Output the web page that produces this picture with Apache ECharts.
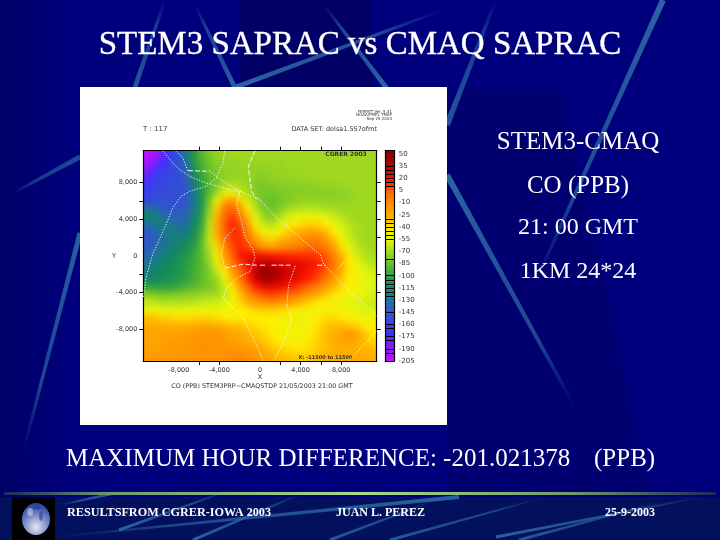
<!DOCTYPE html>
<html><head><meta charset="utf-8">
<style>
html,body{margin:0;padding:0;background:#00007c;overflow:hidden}
#a,#c{position:absolute;left:0;top:0;width:720px;height:540px}
#clip{position:absolute;left:143.3px;top:150.7px;width:233.4px;height:210.3px;overflow:hidden}
#b{position:absolute;left:-143.3px;top:-150.7px;width:720px;height:540px;filter:blur(3.2px)}
#c{filter:blur(0.35px)}
</style>
<script src="https://cdn.jsdelivr.net/npm/echarts@6/dist/echarts.min.js"></script>
</head><body>
<div id="a"></div>
<div id="clip"><div id="b"></div></div>
<div id="c"></div>
<script>
// ---- Field: CO difference (PPB), rows top to bottom ----
const gridRows = [
[-205,-200,-185,-165,-150,-125,-105,-90,-80,-74,-72,-70,-70,-70,-70,-70,-70,-70,-70,-70,-70,-70,-70,-70,-70,-70,-70,-70,-70,-70],
[-200,-190,-175,-160,-150,-134,-108,-92,-82,-76,-73,-72,-72,-72,-72,-72,-72,-72,-70,-70,-70,-70,-70,-70,-70,-70,-70,-70,-70,-70],
[-190,-178,-165,-155,-152,-140,-112,-95,-85,-78,-74,-73,-73,-74,-74,-74,-73,-72,-72,-71,-70,-70,-70,-70,-70,-70,-70,-70,-70,-70],
[-180,-168,-158,-154,-152,-144,-118,-100,-88,-80,-74,-72,-72,-74,-76,-76,-75,-74,-73,-72,-72,-71,-70,-70,-70,-70,-70,-70,-70,-70],
[-168,-158,-154,-152,-152,-146,-124,-105,-90,-78,-68,-66,-68,-72,-78,-80,-78,-76,-76,-76,-75,-75,-74,-73,-72,-72,-71,-70,-70,-70],
[-160,-155,-152,-152,-152,-146,-127,-108,-88,-68,-50,-48,-58,-68,-78,-82,-82,-80,-78,-77,-76,-76,-76,-76,-76,-75,-73,-71,-70,-70],
[-155,-150,-150,-150,-150,-146,-128,-110,-80,-48,-18,-10,-32,-58,-72,-82,-86,-82,-78,-75,-73,-73,-73,-73,-74,-74,-72,-70,-70,-70],
[-130,-135,-142,-146,-146,-142,-126,-108,-75,-32,0,6,-12,-42,-65,-78,-84,-78,-70,-66,-64,-64,-65,-66,-68,-70,-70,-70,-70,-70],
[-118,-122,-132,-140,-142,-136,-122,-105,-68,-25,6,14,0,-28,-55,-72,-76,-68,-58,-52,-50,-50,-52,-55,-60,-65,-68,-70,-70,-70],
[-135,-125,-122,-128,-134,-130,-118,-100,-64,-22,8,18,10,-16,-45,-60,-66,-58,-45,-38,-35,-32,-34,-40,-50,-58,-65,-68,-70,-70],
[-145,-140,-128,-122,-126,-124,-112,-95,-62,-22,6,18,14,-6,-30,-45,-50,-42,-32,-25,-20,-16,-18,-26,-40,-52,-62,-68,-70,-70],
[-148,-142,-132,-124,-122,-118,-108,-90,-62,-28,0,15,16,5,-15,-28,-32,-26,-20,-15,-8,-4,-4,-12,-28,-45,-58,-66,-70,-70],
[-145,-136,-128,-122,-118,-112,-102,-88,-66,-36,-6,10,18,14,2,-10,-12,-8,-4,-2,2,6,5,-2,-15,-35,-52,-62,-68,-70],
[-138,-130,-124,-118,-112,-106,-98,-88,-70,-44,-15,6,20,26,26,24,22,20,18,17,16,16,14,8,-5,-25,-45,-58,-65,-68],
[-128,-122,-118,-114,-110,-104,-96,-88,-74,-52,-25,0,14,26,34,38,38,34,30,30,28,24,20,12,0,-20,-40,-50,-60,-65],
[-125,-118,-115,-112,-108,-102,-94,-88,-78,-62,-40,-15,2,20,38,48,46,40,34,30,26,22,16,6,-5,-25,-38,-48,-55,-60],
[-120,-116,-112,-110,-106,-100,-94,-88,-80,-70,-50,-25,-2,18,36,44,44,38,32,28,24,18,10,-2,-14,-30,-40,-46,-50,-56],
[-100,-102,-102,-100,-98,-92,-88,-85,-80,-74,-58,-38,-14,6,20,28,30,26,22,16,10,4,-4,-14,-26,-36,-42,-45,-50,-55],
[-75,-78,-80,-80,-78,-76,-74,-72,-70,-70,-62,-46,-28,-8,4,10,12,10,6,0,-6,-14,-22,-30,-37,-43,-47,-50,-55,-58],
[-62,-64,-66,-66,-66,-65,-64,-62,-60,-58,-54,-46,-34,-22,-14,-10,-8,-10,-14,-20,-28,-34,-38,-42,-46,-48,-52,-55,-58,-60],
[-48,-50,-52,-52,-52,-50,-50,-48,-48,-48,-48,-46,-42,-38,-34,-32,-32,-34,-36,-40,-44,-46,-46,-45,-45,-46,-48,-52,-56,-58],
[-28,-30,-32,-34,-36,-36,-34,-34,-34,-36,-40,-42,-42,-40,-40,-40,-42,-44,-46,-47,-48,-46,-40,-36,-36,-38,-42,-46,-50,-48],
[-22,-22,-22,-22,-24,-24,-22,-20,-20,-22,-25,-28,-28,-32,-36,-38,-40,-44,-46,-47,-46,-42,-36,-30,-28,-28,-30,-34,-40,-42],
[-20,-20,-20,-20,-18,-16,-14,-12,-12,-13,-15,-20,-22,-26,-30,-34,-38,-42,-46,-46,-44,-40,-34,-28,-24,-20,-12,-18,-30,-38],
[-20,-20,-18,-16,-16,-14,-12,-11,-11,-12,-14,-17,-20,-22,-26,-30,-36,-40,-44,-44,-42,-38,-32,-28,-24,-22,-18,-22,-28,-34],
[-18,-18,-16,-15,-14,-13,-12,-11,-11,-12,-12,-12,-14,-16,-18,-22,-30,-34,-36,-38,-38,-36,-32,-28,-26,-24,-24,-24,-26,-28],
[-14,-14,-14,-13,-13,-13,-12,-12,-12,-12,-10,-8,-6,-8,-12,-18,-22,-26,-28,-30,-32,-30,-28,-25,-22,-22,-22,-22,-22,-24]
];
const levelColors = ['#c010ff','#8020f8','#4030ff','#3a40e8','#2f58c8','#1f7398','#108a5c','#30a040','#66c02a','#a0d820','#dff510','#ffee00','#ffb000','#ff9000','#ff6a00','#ff1a00','#d00000','#8b0000'];
const colorbarLabels = [50,35,20,5,-10,-25,-40,-55,-70,-85,-100,-115,-130,-145,-160,-175,-190,-205];
const colorbarLines = [35,30,25,20,15,10,-30,-35,-40,-45,-50,-55,-80,-100,-105,-110,-115,-120,-125,-145,-160,-165,-175,-180,-190,-195];
const xTickLabels = [-8000,-4000,0,4000,8000];
const xTicks = [-6000,-4000,2000,4000,6000,8000];
const yTickLabels = [8000,4000,0,-4000,-8000];
const yTicks = [8000,6000,4000,2000,-2000,-4000,-8000];
const axisExtent = 11500;
// boundary overlays, in axis units
const boundaryDotted = [
 [[-9590,11500],[-8600,10160],[-7930,9430],[-6940,8700],[-5290,7970],[-3640,7430],[-2150,7060],[-1980,6660]],
 [[-8270,11500],[-7600,10700],[-7110,9320]],
 [[-4960,9250],[-4130,8520],[-1980,7060],[0,6150],[1650,4110],[3640,2290],[5950,110],[6280,-910],[8270,-3280],[11240,-6190],[11500,-6620]],
 [[-3470,11500],[-3640,10160],[-4300,8520],[-5290,7610],[-6940,7060],[-7770,6520],[-8600,5240],[-9260,3420],[-10580,150],[-11240,-2440],[-11500,-4620]],
 [[-1980,7060],[-2310,5610],[-1820,3790],[-1490,2150],[-660,660],[-500,-250],[-990,-1710],[-2310,-2440],[-3310,-3530],[-3640,-4620],[-1650,-6810],[-660,-8990],[330,-11470]],
 [[-2480,3060],[-3470,1930],[-3800,150],[-3470,-1350]],
 [[3470,-1090],[2810,-3280],[2640,-5460],[3140,-6920],[2150,-9830],[1490,-11280]],
 [[11500,-8190],[8930,-11280]],
 [[7600,-1460],[8600,-360]]
];
const boundaryDashed = [
 [[-7110,9320],[-4960,9250]],
 [[-500,11500],[-1160,9760],[-830,7030],[-330,6220]],
 [[-3470,-1350],[-1650,-910],[-330,-1020]],
 [[0,-1020],[650,-1020]],
 [[1150,-1020],[3140,-1020]],
 [[5620,-1020],[6450,-1020]]
];
const titleText = 'STEM3 SAPRAC vs CMAQ SAPRAC';
const sideLines = ['STEM3-CMAQ','CO (PPB)','21: 00 GMT','1KM 24*24'];
const maxLine = 'MAXIMUM HOUR DIFFERENCE: -201.021378';
const footer = ['RESULTSFROM CGRER-IOWA 2003','JUAN L. PEREZ','25-9-2003'];

const fieldData = [];
gridRows.forEach((row,r)=>row.forEach((v,c)=>fieldData.push([c,gridRows.length-1-r,v])));
const colIdx = gridRows[0].map((_,i)=>i);
const rowIdx = gridRows.map((_,i)=>i);
const barLevels = []; for(let v=-205;v<=55;v+=5) barLevels.push(v);
const barData = barLevels.map((v,i)=>[0,i,v]);

const plot = {left:143.3,top:150.7,width:233.4,height:210.3};
const cbar = {left:385.3,top:150.7,width:8.5,height:210.3};
const visual = {type:'continuous',show:false,min:-205,max:50,seriesIndex:'all',dimension:2,inRange:{color:levelColors}};
const hiddenCat = (data,gridIndex)=>({type:'category',data,gridIndex,show:false,boundaryGap:true});

// ---- decoration helpers ----
function streak(x1,y1,x2,y2,w,op){ // thin end at 1, thick end at 2
  const dx=x2-x1,dy=y2-y1,l=Math.hypot(dx,dy),nx=-dy/l,ny=dx/l;
  const t=0.25;
  return {type:'polygon',silent:true,shape:{points:[[x1+nx*w*t,y1+ny*w*t],[x2+nx*w/2,y2+ny*w/2],[x2-nx*w/2,y2-ny*w/2],[x1-nx*w*t,y1-ny*w*t]]},
    style:{fill:new echarts.graphic.LinearGradient(x1,y1,x2,y2,[{offset:0,color:'rgba(45,105,165,0)'},{offset:0.3,color:'rgba(45,105,165,'+op*0.7+')'},{offset:1,color:'rgba(45,105,165,'+op+')'}],true)}};
}
function text(t,x,y,size,opt={}){
  return {type:'text',silent:true,x,y,style:Object.assign({text:t,fill:'#fff',stroke:opt.stroke?'#fff':null,lineWidth:opt.stroke||0,font:(opt.weight||'normal')+' '+size+'px "Liberation Serif"',textAlign:opt.align||'center',textVerticalAlign:'middle'}),z:5};
}
const deco = [
 {type:'polygon',silent:true,shape:{points:[[240,0],[372,0],[372,90],[240,90]]},style:{fill:'rgba(0,0,50,0.28)'}},
 {type:'polygon',silent:true,shape:{points:[[447,90],[560,90],[610,300],[650,497],[447,497]]},style:{fill:'rgba(0,0,50,0.14)'}},
 {type:'rect',silent:true,shape:{x:0,y:0,width:70,height:497},style:{fill:new echarts.graphic.LinearGradient(0,0,70,0,[{offset:0,color:'rgba(0,0,60,0.3)'},{offset:1,color:'rgba(0,0,60,0)'}],true)}},
 {type:'rect',silent:true,shape:{x:0,y:497,width:720,height:43},style:{fill:'#02105e'}},
 streak(443,10,236,87,5,0.95),
 streak(13,193,80,157,5,0.7),
 streak(324,5,388,90,5,0.95),
 streak(575,407,447,175,6,0.95),
 streak(496,0,447,125,6,0.8),
 streak(535,283,663,0,6,0.95),
 streak(165,0,135,87,5,0.8),
 streak(195,5,236,90,5,0.9),
 streak(23,453,80,233,5,0.9),
 streak(60,505,115,493,3,0.9),
 streak(55,537,459,497,4,0.9),
 streak(230,490,119,530,3,0.9),
 streak(303,493,193,540,3,0.9),
 streak(436,500,330,540,3,0.8),
 streak(542,498,390,540,3,0.8),
 streak(702,497,496,537,3,0.9),
 streak(657,503,519,540,3,0.8),
 {type:'rect',silent:true,shape:{x:4,y:492,width:712,height:3},style:{fill:new echarts.graphic.LinearGradient(4,0,716,0,[{offset:0,color:'#1a2a60'},{offset:0.15,color:'#6f9a6a'},{offset:0.5,color:'#a6dc88'},{offset:0.8,color:'#6f9a6a'},{offset:1,color:'#1a2a60'}],true)}},
 // white panel
 {type:'rect',silent:true,shape:{x:80,y:87,width:367,height:338},style:{fill:'#fff'}},
 // globe
 {type:'rect',silent:true,shape:{x:12,y:497,width:43,height:43},style:{fill:'#000'}},
 {type:'ellipse',silent:true,shape:{cx:36,cy:519,rx:14,ry:16},style:{fill:new echarts.graphic.RadialGradient(0.5,0.75,0.8,[{offset:0,color:'#e8e8f0'},{offset:0.5,color:'#7f90c8'},{offset:1,color:'#2a45a0'}])}},
 {type:'ellipse',silent:true,shape:{cx:30,cy:512,rx:3,ry:4},style:{fill:'rgba(235,240,250,0.45)'}},
 {type:'ellipse',silent:true,shape:{cx:41,cy:516,rx:2,ry:5},style:{fill:'rgba(20,45,130,0.45)'}},
 {type:'ellipse',silent:true,shape:{cx:37,cy:508,rx:4,ry:1.5},style:{fill:'rgba(20,45,130,0.45)'}},
 // slide text
 text(titleText,360,45,33,{stroke:0.35}),
 text(sideLines[0],578,142,25),
 text(sideLines[1],578,186,25),
 text(sideLines[2],578,228,24),
 text(sideLines[3],578,272,24),
 text(maxLine,66,459,25,{align:'left'}),
 text('(PPB)',594,459,25,{align:'left'}),
 text(footer[0],67,513,12.2,{align:'left',weight:'bold'}),
 text(footer[1],336,513,12,{align:'left',weight:'bold'}),
 text(footer[2],655,513,12,{align:'right',weight:'bold'})
];

// ---- chart A: slide, unblurred field, colour bar ----
const A = echarts.init(document.getElementById('a'),null,{renderer:'canvas'});
A.setOption({
 animation:false,backgroundColor:'#00007c',
 graphic:{elements:deco},
 visualMap:visual,
 grid:[plot,cbar],
 xAxis:[hiddenCat(colIdx,0),hiddenCat([0],1)],
 yAxis:[hiddenCat(rowIdx,0),hiddenCat(barLevels,1)],
 series:[
  {type:'heatmap',data:fieldData,xAxisIndex:0,yAxisIndex:0,silent:true,progressive:0},
  {type:'heatmap',data:barData,xAxisIndex:1,yAxisIndex:1,silent:true,progressive:0}
 ]
});
// ---- chart B: same field, softened by CSS ----
const B = echarts.init(document.getElementById('b'));
B.setOption({animation:false,visualMap:visual,grid:plot,xAxis:hiddenCat(colIdx,0),yAxis:hiddenCat(rowIdx,0),
 series:[{type:'heatmap',data:fieldData,silent:true,progressive:0}]});

// ---- chart C: frame, axes, labels, boundaries ----
const line={show:true,onZero:false,lineStyle:{color:'#000',width:1.2}};
const lab={color:'#333',fontSize:6.5,fontFamily:'"DejaVu Sans"'};
const ticks=(vals,len)=>({show:true,length:len,customValues:vals,lineStyle:{color:'#000',width:1}});
const smallText=(t,x,y,o={})=>({type:'text',silent:true,x,y,style:Object.assign({text:t,fill:'#333',font:(o.b?'bold ':'')+(o.size||6.5)+'px "DejaVu Sans"',textAlign:o.align||'center',textVerticalAlign:'middle'})});
const overlay=[...boundaryDotted.map(d=>({d,type:'dotted'})),...boundaryDashed.map(d=>({d,type:'dashed'}))];
const C = echarts.init(document.getElementById('c'));
C.setOption({
 animation:false,
 grid:[plot,{left:cbar.left,top:cbar.top,width:cbar.width,height:cbar.height}],
 xAxis:[
  {type:'value',gridIndex:0,min:-axisExtent,max:axisExtent,position:'bottom',axisLine:line,axisTick:ticks(xTicks,4),splitLine:{show:false},
   axisLabel:Object.assign({customValues:xTickLabels,margin:6},lab)},
  {type:'value',gridIndex:0,min:-axisExtent,max:axisExtent,position:'top',axisLine:line,axisTick:ticks(xTicks,4),splitLine:{show:false},axisLabel:{show:false}},
  {type:'value',gridIndex:1,min:0,max:1,show:true,position:'top',axisLine:line,axisTick:{show:false},axisLabel:{show:false},splitLine:{show:false}},
  {type:'value',gridIndex:1,min:0,max:1,show:true,position:'bottom',axisLine:line,axisTick:{show:false},axisLabel:{show:false},splitLine:{show:false}}
 ],
 yAxis:[
  {type:'value',gridIndex:0,min:-axisExtent,max:axisExtent,position:'left',axisLine:line,axisTick:ticks(yTicks,4),splitLine:{show:false},
   axisLabel:Object.assign({customValues:yTickLabels,margin:6},lab)},
  {type:'value',gridIndex:0,min:-axisExtent,max:axisExtent,position:'right',axisLine:line,axisTick:ticks(yTicks,4),splitLine:{show:false},axisLabel:{show:false}},
  {type:'value',gridIndex:1,min:-205,max:54,position:'right',axisLine:line,
   axisTick:{show:true,inside:true,length:8.5,customValues:colorbarLines,lineStyle:{color:'#000',width:1}},splitLine:{show:false},
   axisLabel:Object.assign({customValues:colorbarLabels,margin:5},lab,{fontSize:7})},
  {type:'value',gridIndex:1,min:-205,max:54,position:'left',axisLine:line,axisTick:{show:false},axisLabel:{show:false},splitLine:{show:false}}
 ],
 series:overlay.map(o=>({type:'line',xAxisIndex:0,yAxisIndex:0,data:o.d,symbol:'none',silent:true,clip:true,
   lineStyle:{color:'#fff',width:1,opacity:0.95,type:o.type==='dotted'?[1.2,1.6]:[5,2]}})),
 graphic:{elements:[
  smallText('T : 117',143,129,{align:'left',size:7}),
  smallText('DATA SET: delsa1.5S7ofmt',377,129,{align:'right',size:6.5}),
  smallText('FERRET Ver. 5.41',392,111.5,{align:'right',size:4}),
  smallText('NOAA/PMEL TMAP',392,115,{align:'right',size:4}),
  smallText('Sep 25 2003',392,118.5,{align:'right',size:4}),
  smallText('CGRER 2003',346,154,{size:6,b:true}),
  smallText('X: -11500 to 11500',325.5,358,{size:5,b:true}),
  smallText('Y',114,256),
  smallText('X',260,377),
  smallText('CO (PPB) STEM3PRP\u2212CMAQSTDP 21/05/2003 21:00 GMT',262,386,{size:6.4})
 ]}
});
</script>
</body></html>
